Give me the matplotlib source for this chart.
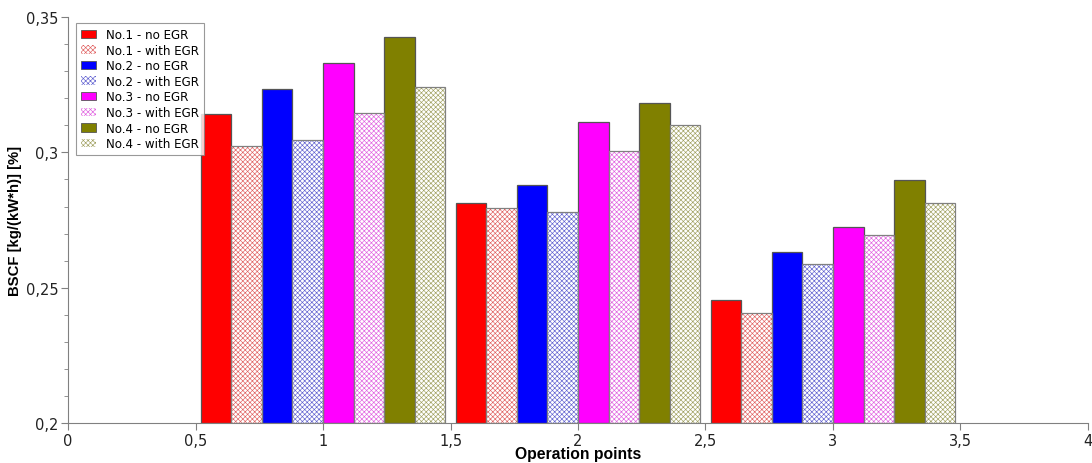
import matplotlib
matplotlib.use("Agg")
import matplotlib.pyplot as plt
import numpy as np
from matplotlib.patches import Patch
from matplotlib.ticker import MultipleLocator, FuncFormatter

groups = [1, 2, 3]
series_labels = ["No.1 - no EGR", "No.1 - with EGR", "No.2 - no EGR", "No.2 - with EGR",
                 "No.3 - no EGR", "No.3 - with EGR", "No.4 - no EGR", "No.4 - with EGR"]
no1_no = [0.3142, 0.2813, 0.2455]
no1_with = [0.3023, 0.2794, 0.2407]
no2_no = [0.3234, 0.2879, 0.2632]
no2_with = [0.3046, 0.2780, 0.2588]
no3_no = [0.3330, 0.3112, 0.2724]
no3_with = [0.3145, 0.3005, 0.2695]
no4_no = [0.3426, 0.3182, 0.2898]
no4_with = [0.3241, 0.3101, 0.2813]
series = [no1_no, no1_with, no2_no, no2_with, no3_no, no3_with, no4_no, no4_with]
colors = ["#ff0000", "#ff0000", "#0000ff", "#0000ff", "#ff00ff", "#ff00ff", "#808000", "#808000"]
hatch_colors = ["#ff0000", "#e06060", "#0000ff", "#6060d0", "#ff00ff", "#e060e0", "#808000", "#a0a060"]
hatched = [False, True, False, True, False, True, False, True]

plt.rcParams['hatch.linewidth'] = 0.45
plt.rcParams['font.family'] = ['DejaVu Sans']

fig = plt.figure(figsize=(10.92, 4.64), dpi=100)
ax = fig.add_axes([0.0623, 0.086, 0.934, 0.875])

width = 0.12
base = 0.2
x = np.array(groups, dtype=float)
handles = []
for i, (vals, c, hc, h) in enumerate(zip(series, colors, hatch_colors, hatched)):
    pos = x + (i - 3.5) * width
    heights = np.array(vals) - base
    if h:
        ax.bar(pos, heights, width, bottom=base, color="white", edgecolor=hc,
               hatch="xxxxxxx", linewidth=0, zorder=2)
        ax.bar(pos, heights, width, bottom=base, fill=False, edgecolor="#808080",
               linewidth=0.9, zorder=3)
        handles.append(Patch(facecolor="white", edgecolor=hc, hatch="xxxxxxx", linewidth=0))
    else:
        ax.bar(pos, heights, width, bottom=base, color=c, edgecolor="#555555",
               linewidth=0.9, zorder=2)
        handles.append(Patch(facecolor=c, edgecolor="#555555", linewidth=0.6))

ax.set_xlim(0, 4)
ax.set_ylim(0.2, 0.35)
ax.xaxis.set_major_locator(MultipleLocator(0.5))
ax.yaxis.set_major_locator(MultipleLocator(0.05))
ax.yaxis.set_minor_locator(MultipleLocator(0.01))

def fmt(v, p):
    s = ("%.2f" % v).rstrip("0").rstrip(".")
    return s.replace(".", ",")
ax.xaxis.set_major_formatter(FuncFormatter(fmt))
ax.yaxis.set_major_formatter(FuncFormatter(fmt))

for side in ["top", "right"]:
    ax.spines[side].set_visible(False)
for side in ["left", "bottom"]:
    ax.spines[side].set_color("#808080")
ax.tick_params(axis="both", which="both", color="#808080", labelsize=10.5, labelcolor="#222222")
ax.tick_params(axis="both", which="major", length=5)
ax.tick_params(axis="y", which="minor", length=3)
ax.tick_params(axis="x", pad=2)
ax.tick_params(axis="y", pad=2)

ax.set_xlabel("Operation points", fontsize=11.3, fontweight="bold", labelpad=-1,
              family="Liberation Sans")
ax.set_ylabel("BSCF [kg/(kW*h)] [%]", fontsize=10.7, fontweight="bold", labelpad=3,
              family="Liberation Sans")

leg = ax.legend(handles, series_labels, loc="upper left", bbox_to_anchor=(0.008, 0.985),
                fontsize=8.6, frameon=True, fancybox=False, handlelength=1.3,
                handleheight=0.7, handletextpad=0.8, labelspacing=0.22,
                borderpad=0.4, borderaxespad=0)
leg.get_frame().set_edgecolor("#808080")
leg.get_frame().set_linewidth(0.8)

fig.savefig("out.png", dpi=100)
